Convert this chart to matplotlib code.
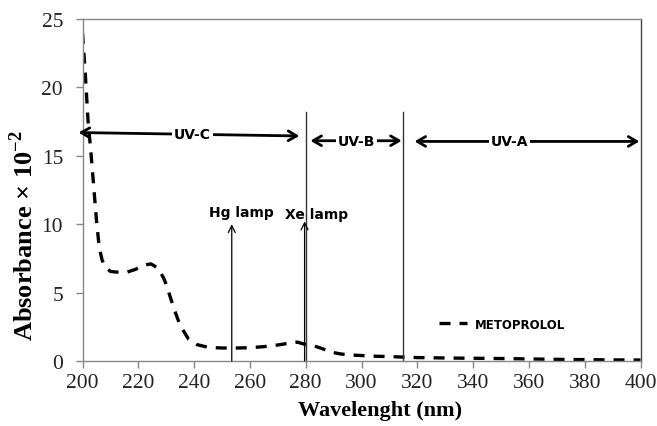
import matplotlib
matplotlib.use("Agg")
import matplotlib.pyplot as plt

plt.rcParams['mathtext.fontset'] = 'custom'
plt.rcParams['mathtext.rm'] = 'Liberation Serif:bold'
plt.rcParams['mathtext.bf'] = 'Liberation Serif:bold'

wavelength = [200, 201, 202, 203, 204, 205, 206, 207, 208, 210, 212, 216, 219, 222, 224.5,
              227, 229, 230, 233, 235, 238, 241, 245, 250, 255, 260, 265, 270, 274, 277,
              280, 283, 286, 289, 293, 298, 305, 313, 320, 330, 340, 350, 360, 370, 380, 390, 400]
absorbance = [24, 21, 17.5, 15.3, 12.8, 10.3, 8.3, 7.4, 6.9, 6.55, 6.5, 6.5, 6.7, 7.0, 7.1,
              6.8, 6.1, 5.6, 3.7, 2.6, 1.6, 1.2, 1.0, 0.95, 0.95, 0.97, 1.05, 1.17, 1.3, 1.38,
              1.2, 1.1, 0.9, 0.65, 0.5, 0.42, 0.35, 0.3, 0.25, 0.22, 0.2, 0.18, 0.15, 0.12, 0.1, 0.08, 0.07]

xticks = [200, 220, 240, 260, 280, 300, 320, 340, 360, 380, 400]
yticks = [0, 5, 10, 15, 20, 25]

series_label = "METOPROLOL"
x_label = "Wavelenght (nm)"
y_label = r"Absorbance × 10$^{-2}$"

# band annotations: (label, x_start, y_start, x_end, y_end, label_x)
bands = [("UV-C", 198.6, 16.7, 277.7, 16.45, 239.5),
         ("UV-B", 281.7, 16.1, 314.4, 16.1, 298.2),
         ("UV-A", 319.0, 16.05, 399.6, 16.05, 353.0)]
boundaries = [280.2, 314.8]
boundary_top = 18.2
lamps = [("Hg lamp", 253.5, 10.0, 256.8, 10.6),
         ("Xe lamp", 279.6, 10.2, 284.0, 10.45)]

fig = plt.figure(figsize=(6.57, 4.27), dpi=100)
ax = fig.add_axes([82.5/657, 1-362/427, (640.5-82.5)/657, (362-20)/427])

ax.plot(wavelength, absorbance, color='black', lw=2.4, linestyle=(0, (3.3, 2.7)),
        label=series_label)

ax.set_xlim(200, 400)
ax.set_ylim(0, 25)
ax.set_xticks(xticks)
ax.set_yticks(yticks)
for s in ['left', 'bottom', 'top']:
    ax.spines[s].set_color('#888888')
ax.spines['right'].set_color('#444444')
for s in ax.spines.values():
    s.set_linewidth(1.0)
ax.tick_params(axis='both', direction='out', color='#888888', length=5, width=1,
               labelsize=15.5)
ax.tick_params(axis='x', pad=3.5)
ax.tick_params(axis='y', pad=9)
for lab in ax.get_xticklabels() + ax.get_yticklabels():
    lab.set_fontfamily('Liberation Serif')
    lab.set_color('#222222')

ax.set_xlabel(x_label, fontfamily='Liberation Serif', fontweight='bold', fontsize=16)
ax.xaxis.set_label_coords((380 - 82.5) / 558, -(401 - 362) / 342)
ax.set_ylabel(y_label, fontfamily='Liberation Serif', fontweight='bold', fontsize=19)
ax.yaxis.set_label_coords((38 - 82.5) / 558, (362 - 236) / 342)

for bx in boundaries:
    ax.plot([bx, bx], [0, boundary_top], color='#333333', lw=1.0, clip_on=False)

for label, x0, y0, x1, y1, lx in bands:
    ax.annotate('', xy=(x0, y0), xytext=(x1, y1),
                arrowprops=dict(arrowstyle='<->,head_length=0.6,head_width=0.35',
                                color='black', lw=2.0, shrinkA=0, shrinkB=0),
                annotation_clip=False)
    ax.text(lx, (y0 + y1) / 2, label, ha='center', va='center', fontfamily='DejaVu Sans',
            fontweight='bold', fontsize=10,
            bbox=dict(facecolor='white', edgecolor='none', pad=1.5))

for label, lx, ltop, tx, ty in lamps:
    ax.annotate('', xy=(lx, ltop), xytext=(lx, 0),
                arrowprops=dict(arrowstyle='->,head_length=0.5,head_width=0.25',
                                color='black', lw=0.9, shrinkA=0, shrinkB=0))
    ax.text(tx, ty, label, ha='center', va='baseline', fontfamily='DejaVu Sans',
            fontweight='bold', fontsize=10)

leg = ax.legend(loc='center left', bbox_to_anchor=(0.62, 0.108), frameon=False,
                handlelength=2.4, handletextpad=0.6,
                prop=dict(family='DejaVu Sans', weight='bold', size=8.5))

fig.savefig('out.png', dpi=100)
